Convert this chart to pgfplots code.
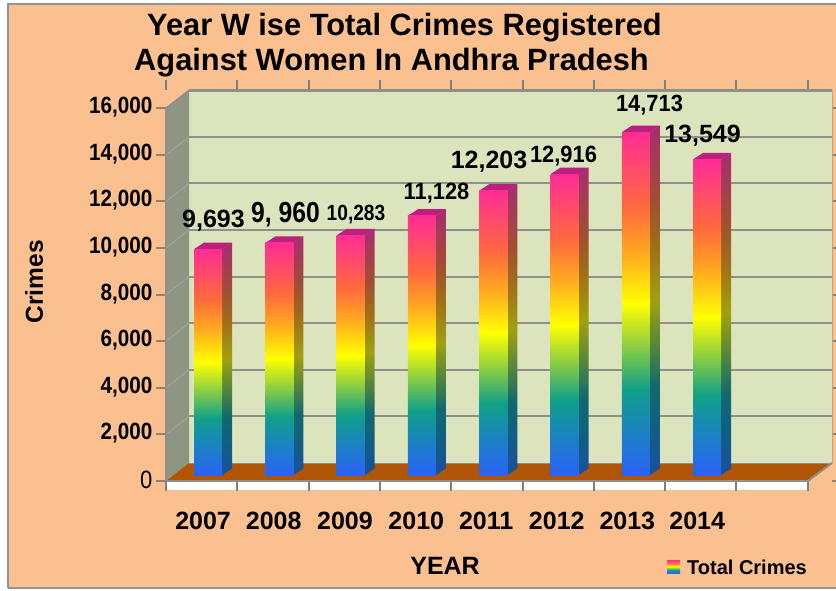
\documentclass[border=0pt]{standalone}
\usepackage{fontspec}
\setmainfont{Liberation Sans}
\usepackage{pgfplots}
\pgfplotsset{compat=1.18}
\definecolor{bgc}{HTML}{FBC08F}
\definecolor{wallc}{HTML}{DCE4BD}
\definecolor{sidec}{HTML}{8E9582}
\definecolor{floorc}{HTML}{B05405}
\definecolor{gridc}{HTML}{8F9088}
\definecolor{topc}{HTML}{BC1F7C}
\definecolor{c1}{HTML}{FF2D96}\definecolor{c2}{HTML}{FF6A3C}\definecolor{c3}{HTML}{FFA820}
\definecolor{c4}{HTML}{FFFF00}\definecolor{c5}{HTML}{90D040}\definecolor{c6}{HTML}{10A088}
\definecolor{c7}{HTML}{1888B8}\definecolor{c8}{HTML}{2A62F8}
\definecolor{d1}{HTML}{A82C70}\definecolor{d2}{HTML}{A05030}\definecolor{d3}{HTML}{A07018}
\definecolor{d4}{HTML}{A0A010}\definecolor{d5}{HTML}{5A8838}\definecolor{d6}{HTML}{106870}
\definecolor{d7}{HTML}{106080}\definecolor{d8}{HTML}{1A50A0}
\pgfdeclareverticalshading{rainbowbar}{100bp}{color(0bp)=(c8);color(25bp)=(c8);color(32.5bp)=(c7);color(37.5bp)=(c6);color(44bp)=(c5);color(50bp)=(c4);color(57.5bp)=(c3);color(64bp)=(c2);color(75bp)=(c1);color(100bp)=(c1)}
\pgfdeclareverticalshading{rainbowside}{100bp}{color(0bp)=(d8);color(25bp)=(d8);color(32.5bp)=(d7);color(37.5bp)=(d6);color(44bp)=(d5);color(50bp)=(d4);color(57.5bp)=(d3);color(64bp)=(d2);color(75bp)=(d1);color(100bp)=(d1)}
% side and top faces: XL, XR, XS, XLback, front top, back top
\newcommand\barfaces[6]{%
  \addplot[forget plot,shade,shading=rainbowside,draw=none] coordinates {(#2,258) (#3,537) (#3,#6) (#2,#5)} -- cycle;
  \addplot[forget plot,fill=topc,draw=none] coordinates {(#1,#5) (#2,#5) (#3,#6) (#4,#6)} -- cycle;
}
\pgfplotsset{frontbar/.style={ybar,/pgf/bar width=28pt,/pgf/bar shift=6.4pt,yshift=6pt,shade,shading=rainbowbar,draw=none}}
\newcommand\F[1]{\fontsize{#1}{#1}\selectfont\bfseries}
\newcommand\lbl[5][]{\node[inner sep=0pt,anchor=center,#1] at (#2,{590-#3}) {\F{#4}#5};}
\begin{document}
\begin{tikzpicture}[x=1pt,y=1pt]
\path[use as bounding box] (0,0) rectangle (836,590);
\fill[white] (0,0) rectangle (836,590);
\fill[bgc] (8,2) rectangle (836,586);
\draw[color=gray!85,line width=1.6pt] (8,2) -- (8,586) -- (836,586);
\draw[color=gray!85,line width=1.6pt] (8,2) -- (836,2);
\fill[white] (166,100) rectangle (808,109);
\begin{axis}[
  at={(166pt,109pt)},anchor=south west,
  scale only axis,width=666pt,height=391.4pt,
  xmin=-0.5,xmax=8.84,ymin=0,ymax=16800,
  clip=false,
  scaled y ticks=false,
  axis line style={draw=none},
  xtick={-0.5,0.5,...,8.5},xticklabels={},
  x tick style={draw=gray,line width=2pt},
  extra x ticks={0.02,1.01,2.01,3.01,3.99,4.98,5.97,6.95},
  extra x tick labels={2007,2008,2009,2010,2011,2012,2013,2014},
  extra x tick style={tick style={draw=none},major tick length=0pt,
    tick label style={font=\F{25},yshift=-31pt,inner sep=0pt}},
  ytick={0,2000,...,16000},
  yticklabels={{\fontsize{25}{25}\selectfont\mdseries 0},{2,000},{4,000},{6,000},{8,000},{10,000},{12,000},{14,000},{16,000}},
  y tick label style={font=\F{23.5},inner sep=0pt,xshift=-4pt,yshift=1pt,xscale=0.88},
  y tick style={draw=gray!70!brown,line width=2pt},
  tick align=outside,major tick length=9.5pt,
  xlabel={YEAR},ylabel={Crimes},
  xlabel style={at={(axis description cs:0.419,-0.217)},anchor=center,font=\F{25},inner sep=0pt},
  ylabel style={at={(axis description cs:-0.1982,0.509)},anchor=center,font=\F{24.5},inner sep=0pt},
  legend style={at={(rel axis cs:0.7522,-0.2225)},anchor=west,draw=none,fill=none,font=\F{20},inner sep=0pt,
    legend cell align=left},
]
% walls and floor
\addplot[forget plot,fill=wallc,draw=none] coordinates {(-0.1774,772) (8.84,772) (8.84,16772) (-0.1774,16772)} -- cycle;
\addplot[forget plot,fill=sidec,draw=none] coordinates {(-0.5,0) (-0.1774,772) (-0.1774,16772) (-0.5,16000)} -- cycle;
% grid lines on the back wall
\addplot[forget plot,gridc,line width=2pt] coordinates {(-0.1774,2772) (8.84,2772)};
\addplot[forget plot,gridc,line width=2pt] coordinates {(-0.1774,4772) (8.84,4772)};
\addplot[forget plot,gridc,line width=2pt] coordinates {(-0.1774,6772) (8.84,6772)};
\addplot[forget plot,gridc,line width=2pt] coordinates {(-0.1774,8772) (8.84,8772)};
\addplot[forget plot,gridc,line width=2pt] coordinates {(-0.1774,10772) (8.84,10772)};
\addplot[forget plot,gridc,line width=2pt] coordinates {(-0.1774,12772) (8.84,12772)};
\addplot[forget plot,gridc,line width=2pt] coordinates {(-0.1774,14772) (8.84,14772)};
\addplot[forget plot,gridc,line width=2.5pt] coordinates {(-0.1774,16772) (8.84,16772)};
% grid lines on the side wall
\addplot[forget plot,gridc!80!white,line width=0.8pt] coordinates {(-0.5,2000) (-0.1774,2772)};
\addplot[forget plot,gridc!80!white,line width=0.8pt] coordinates {(-0.5,4000) (-0.1774,4772)};
\addplot[forget plot,gridc!80!white,line width=0.8pt] coordinates {(-0.5,6000) (-0.1774,6772)};
\addplot[forget plot,gridc!80!white,line width=0.8pt] coordinates {(-0.5,8000) (-0.1774,8772)};
\addplot[forget plot,gridc!80!white,line width=0.8pt] coordinates {(-0.5,10000) (-0.1774,10772)};
\addplot[forget plot,gridc!80!white,line width=0.8pt] coordinates {(-0.5,12000) (-0.1774,12772)};
\addplot[forget plot,gridc!80!white,line width=0.8pt] coordinates {(-0.5,14000) (-0.1774,14772)};
\addplot[forget plot,gridc,line width=1.5pt] coordinates {(-0.5,16000) (-0.1774,16772)};
\addplot[forget plot,gridc!60!bgc,line width=1pt] coordinates {(8.84,772) (8.84,16772)};
% floor
\addplot[forget plot,fill=floorc,draw=none] coordinates {(-0.5,0) (8.5,0) (8.84,772) (-0.1774,772)} -- cycle;
\addplot[forget plot,gridc,line width=1pt] coordinates {(-0.1774,772) (8.84,772)};
\addplot[forget plot,gridc,line width=2pt] coordinates {(8.5,0) (8.84,772)};
\addplot[forget plot,gridc,line width=1.5pt] coordinates {(-0.5,0) (8.5,0)};
\addplot[forget plot,gridc,line width=1.5pt] coordinates {(-0.5,0) (-0.5,16000)};
% bars
\barfaces{-0.107}{0.286}{0.426}{0.033}{9951}{10230}
\barfaces{0.893}{1.286}{1.426}{1.033}{10218}{10497}
\barfaces{1.893}{2.286}{2.426}{2.033}{10541}{10820}
\barfaces{2.893}{3.286}{3.426}{3.033}{11386}{11665}
\barfaces{3.893}{4.286}{4.426}{4.033}{12461}{12740}
\barfaces{4.893}{5.286}{5.426}{5.033}{13174}{13453}
\barfaces{5.893}{6.286}{6.426}{6.033}{14971}{15250}
\barfaces{6.893}{7.286}{7.426}{7.033}{13807}{14086}
\addplot[frontbar,legend image code/.code={\shade[shading=rainbowbar] (0pt,-11pt) rectangle (13pt,2pt);}] coordinates {(0,9693)};
\addlegendentry{\hspace{5pt}Total Crimes}
\addplot[frontbar,forget plot] coordinates {(1,9960)};
\addplot[frontbar,forget plot] coordinates {(2,10283)};
\addplot[frontbar,forget plot] coordinates {(3,11128)};
\addplot[frontbar,forget plot] coordinates {(4,12203)};
\addplot[frontbar,forget plot] coordinates {(5,12916)};
\addplot[frontbar,forget plot] coordinates {(6,14713)};
\addplot[frontbar,forget plot] coordinates {(7,13549)};
\end{axis}
\lbl{404.5}{28}{30.8}{Year W ise Total Crimes Registered}
\lbl{391.5}{63}{30.8}{Against Women In Andhra Pradesh}
\lbl{213.5}{221}{25}{9,693}
\lbl[xscale=0.85]{285.5}{215}{29}{9, 960}
\lbl[xscale=0.87]{356}{215}{22}{10,283}
\lbl[xscale=0.93]{436.5}{193}{23.5}{11,128}
\lbl{489}{162}{25}{12,203}
\lbl[xscale=0.93]{563.5}{156}{23.5}{12,916}
\lbl[xscale=0.93]{649.5}{105}{23.5}{14,713}
\lbl{702.5}{136}{25}{13,549}
\end{tikzpicture}
\end{document}
